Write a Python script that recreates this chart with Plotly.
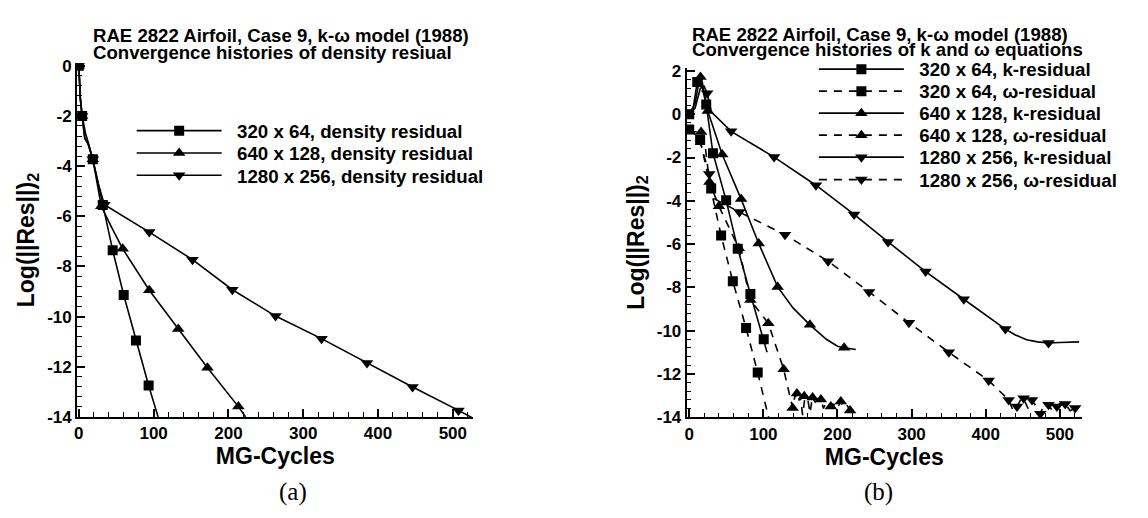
import plotly.graph_objects as go

W, H = 1148, 518

# ---------------- panel (a): density residual ----------------
a_names = ["320 x 64, density residual", "640 x 128, density residual", "1280 x 256, density residual"]

a320_x = [0, 2, 4.4, 9, 13, 18.7, 26, 32, 45.3, 60, 76.4, 93.3, 106]
a320_y = [0, -1.3, -2.0, -2.7, -3.1, -3.73, -4.7, -5.55, -7.36, -9.14, -10.95, -12.75, -14.0]
a320_mx = [0, 4.4, 18.7, 32, 45.3, 60, 76.4, 93.3]
a320_my = [0, -2.0, -3.73, -5.55, -7.36, -9.14, -10.95, -12.75]

a640_x = [0, 2, 4.4, 8, 12, 18.7, 24, 30, 44, 58.7, 94.2, 132.9, 172, 213.3, 223]
a640_y = [0, -1.3, -2.0, -2.9, -3.05, -3.73, -4.6, -5.6, -6.45, -7.3, -8.95, -10.5, -12.04, -13.59, -14.0]
a640_mx = [0, 4.4, 18.7, 30, 58.7, 94.2, 132.9, 172, 213.3]
a640_my = [0, -2.0, -3.73, -5.6, -7.3, -8.95, -10.5, -12.04, -13.59]

a1280_x = [0, 2, 4.4, 8, 12, 18.7, 26, 34.2, 94.2, 152, 205.3, 263, 324.4, 385.3, 446.2, 507.6, 527]
a1280_y = [0, -1.3, -2.0, -2.9, -3.1, -3.73, -4.7, -5.54, -6.63, -7.73, -8.93, -9.98, -10.88, -11.85, -12.81, -13.74, -14.05]
a1280_mx = [0, 4.4, 18.7, 34.2, 94.2, 152, 205.3, 263, 324.4, 385.3, 446.2, 507.6]
a1280_my = [0, -2.0, -3.73, -5.54, -6.63, -7.73, -8.93, -9.98, -10.88, -11.85, -12.81, -13.74]

# ---------------- panel (b): k and omega residuals ----------------
b_names = ["320 x 64, k-residual", "320 x 64, \u03c9-residual",
           "640 x 128, k-residual", "640 x 128, \u03c9-residual",
           "1280 x 256, k-residual", "1280 x 256, \u03c9-residual"]

k320_x = [0, 5, 10.8, 15, 22.9, 32, 49.8, 65.5, 82.5, 100.5, 105]
k320_y = [0, 0.2, 1.49, 1.6, 0.45, -1.8, -3.98, -6.22, -8.31, -10.4, -11.0]
k320_mx = [0, 10.8, 22.9, 32, 49.8, 65.5, 82.5, 100.5]
k320_my = [0, 1.49, 0.45, -1.8, -3.98, -6.22, -8.31, -10.4]

w320_x = [0, 5, 14.7, 20, 29.6, 43, 58.8, 76.7, 92.4, 105, 107]
w320_y = [-0.7, -0.8, -1.19, -2.0, -3.43, -5.6, -7.72, -9.88, -11.94, -13.6, -14.0]
w320_mx = [0, 14.7, 29.6, 43, 58.8, 76.7, 92.4]
w320_my = [-0.7, -1.19, -3.43, -5.6, -7.72, -9.88, -11.94]

k640_x = [0, 8, 15.2, 20, 25, 44.5, 70, 93.7, 119.3, 140, 162.8, 185, 200, 209, 224.7]
k640_y = [0, 0.5, 1.9, 1.0, 0.15, -1.86, -3.92, -5.97, -7.98, -8.95, -9.73, -10.4, -10.72, -10.79, -10.87]
k640_mx = [15.2, 25, 44.5, 70, 93.7, 119.3, 162.8, 209]
k640_my = [1.72, 0.15, -1.86, -3.92, -5.97, -7.98, -9.73, -10.79]

w640_x = [0, 5, 16, 22, 27.3, 40, 66.9, 82.5, 106.7, 127.4, 139.5, 143, 147, 150, 153, 156, 160, 163,
          166, 170, 174, 178, 181, 185, 190, 195, 200, 204, 208, 212, 217, 222, 225]
w640_y = [-0.7, -0.8, -0.82, -1.6, -3.13, -4.25, -6.19, -8.58, -9.66, -11.79, -13.58, -12.95, -13.3, -13.05,
          -13.9, -13.1, -13.2, -13.8, -13.1, -13.3, -13.15, -13.2, -13.6, -13.3, -13.5, -13.4, -13.6, -13.28,
          -13.5, -13.4, -13.69, -13.6, -13.75]
w640_mx = [16, 27.3, 40, 66.9, 82.5, 106.7, 127.4, 139.5, 145.3, 155.2, 166.4, 177.6, 191, 204.5, 217]
w640_my = [-0.82, -3.13, -4.25, -6.19, -8.58, -9.66, -11.79, -13.58, -12.91, -13.03, -13.09, -13.18, -13.51, -13.28, -13.69]

k1280_x = [0, 8, 15, 20, 24.2, 30, 56.5, 114.5, 170.9, 222.4, 268.2, 318.9, 370.4, 426.5, 440, 455, 470,
           484.7, 500, 526]
k1280_y = [0, 0.3, 1.2, 1.3, 0.97, 0.1, -0.79, -1.98, -3.28, -4.63, -5.9, -7.27, -8.55, -9.93, -10.2,
           -10.42, -10.52, -10.57, -10.55, -10.52]
k1280_mx = [24.2, 56.5, 114.5, 170.9, 222.4, 268.2, 318.9, 370.4, 426.5, 484.7]
k1280_my = [0.97, -0.79, -1.98, -3.28, -4.63, -5.9, -7.27, -8.55, -9.93, -10.57]

w1280_x = [0, 5, 15, 27, 34.6, 67.7, 129.2, 187.4, 242.6, 296.4, 350.2, 404, 425, 431, 437, 442.2, 447,
           451.1, 457, 462.4, 468, 473.6, 479, 484.7, 490, 496, 502, 507.2, 514, 520.6, 526]
w1280_y = [-0.7, -0.8, -1.3, -2.76, -3.92, -4.52, -5.57, -6.79, -8.21, -9.63, -11.0, -12.31, -13.0, -13.21,
           -13.7, -13.51, -13.2, -13.13, -13.6, -13.21, -13.5, -13.84, -13.4, -13.43, -13.7, -13.51, -13.3,
           -13.39, -13.7, -13.58, -13.5]
w1280_mx = [27, 67.7, 129.2, 187.4, 242.6, 296.4, 350.2, 404, 431, 442.2, 451.1, 462.4, 473.6, 484.7, 496, 507.2, 520.6]
w1280_my = [-2.76, -4.52, -5.57, -6.79, -8.21, -9.63, -11.0, -12.31, -13.21, -13.51, -13.13, -13.21, -13.84, -13.43, -13.51, -13.39, -13.58]

y_ticks_a = [0, -2, -4, -6, -8, -10, -12, -14]
y_ticks_b = [2, 0, -2, -4, -6, -8, -10, -12, -14]
x_ticks = [0, 100, 200, 300, 400, 500]

# ---------------- figure ----------------
FONT = "Liberation Sans"
BLACK = "black"
LW = 1.6
DASH = "8px,7px"
MSIZE = {"square": 10, "triangle-up": 11, "triangle-down": 11}
GAP = "\u00a0\u00a0"

fig = go.Figure()


def add_series(x, y, mx, my, name, symbol, dash, xa, ya, legend):
    fig.add_trace(go.Scatter(x=x, y=y, mode="lines", line=dict(color=BLACK, width=LW, dash=dash),
                             showlegend=False, xaxis=xa, yaxis=ya, hoverinfo="skip"))
    fig.add_trace(go.Scatter(x=mx, y=my, mode="markers",
                             marker=dict(symbol=symbol, size=MSIZE[symbol], color=BLACK, line=dict(width=0)),
                             showlegend=False, xaxis=xa, yaxis=ya))
    fig.add_trace(go.Scatter(x=[None], y=[None], mode="lines+markers", name=GAP + name,
                             line=dict(color=BLACK, width=LW, dash=dash),
                             marker=dict(symbol=symbol, size=MSIZE[symbol], color=BLACK, line=dict(width=0)),
                             xaxis=xa, yaxis=ya, legend=legend))


add_series(a320_x, a320_y, a320_mx, a320_my, a_names[0], "square", "solid", "x", "y", "legend")
add_series(a640_x, a640_y, a640_mx, a640_my, a_names[1], "triangle-up", "solid", "x", "y", "legend2")
add_series(a1280_x, a1280_y, a1280_mx, a1280_my, a_names[2], "triangle-down", "solid", "x", "y", "legend3")

add_series(k320_x, k320_y, k320_mx, k320_my, b_names[0], "square", "solid", "x2", "y2", "legend4")
add_series(w320_x, w320_y, w320_mx, w320_my, b_names[1], "square", DASH, "x2", "y2", "legend5")
add_series(k640_x, k640_y, k640_mx, k640_my, b_names[2], "triangle-up", "solid", "x2", "y2", "legend6")
add_series(w640_x, w640_y, w640_mx, w640_my, b_names[3], "triangle-up", DASH, "x2", "y2", "legend7")
add_series(k1280_x, k1280_y, k1280_mx, k1280_my, b_names[4], "triangle-down", "solid", "x2", "y2", "legend8")
add_series(w1280_x, w1280_y, w1280_mx, w1280_my, b_names[5], "triangle-down", DASH, "x2", "y2", "legend9")


def fx(p):
    return p / W


def fy(p):
    return 1 - p / H


tickfont = dict(family=FONT, size=17, color=BLACK, weight="bold")
titlefont = dict(family=FONT, size=23, color=BLACK, weight="bold")


def axis_style(rng, dom, tickvals, minor_dtick, anchor, title, standoff):
    return dict(range=rng, domain=dom, anchor=anchor, showline=True, linecolor=BLACK, linewidth=2,
                ticks="inside", ticklen=8, tickwidth=1.5, tickcolor=BLACK, showgrid=False, zeroline=False,
                tickvals=tickvals, ticktext=[str(v) for v in tickvals], tickfont=tickfont,
                minor=dict(ticks="inside", ticklen=4.5, tickwidth=1, tickcolor=BLACK, dtick=minor_dtick,
                           showgrid=False),
                title=dict(text=title, font=titlefont, standoff=standoff), fixedrange=True)


ytitle = "Log(||Res||)<sub>2</sub>"
layout = dict(
    width=W, height=H, margin=dict(l=0, r=0, t=0, b=0), paper_bgcolor="white", plot_bgcolor="white",
    xaxis=axis_style([-2.3, 527.6], [fx(74.3), fx(471.7)], x_ticks, 20, "y", "MG-Cycles", 2),
    yaxis=axis_style([-14, 0.1], [fy(424), fy(59.1)], y_ticks_a, 0.4, "x", ytitle, 6),
    xaxis2=axis_style([-3.4, 529.7], [fx(685.5), fx(1081.7)], x_ticks, 20, "y2", "MG-Cycles", 2),
    yaxis2=axis_style([-14, 2.15], [fy(424.3), fy(63.7)], y_ticks_b, 0.4, "x2", ytitle, 6),
    showlegend=True,
)

leg_font = dict(family=FONT, size=18.7, color=BLACK, weight="bold")
# legend rows: (line start px, row centre px)
leg_rows = [(137, 129), (137, 152), (137, 175),
            (821, 65.5), (821, 88.2), (821, 110.9), (821, 133.6), (821, 156.3), (821, 179.5)]
for i, (lx, ly) in enumerate(leg_rows):
    key = "legend" if i == 0 else "legend%d" % (i + 1)
    layout[key] = dict(x=fx(lx - 8), y=fy(ly), xanchor="left", yanchor="middle", bgcolor="rgba(0,0,0,0)",
                       font=leg_font, itemwidth=85, borderwidth=0, itemclick=False, itemdoubleclick=False)
fig.update_layout(**layout)

ann_font = dict(family=FONT, size=18.6, color=BLACK, weight="bold")
annotations = [
    dict(text="RAE 2822 Airfoil, Case 9, k-\u03c9 model (1988)", x=fx(89), y=fy(30)),
    dict(text="Convergence histories of density resiual", x=fx(89), y=fy(47.7)),
    dict(text="RAE 2822 Airfoil, Case 9, k-\u03c9 model (1988)", x=fx(690), y=fy(29.3)),
    dict(text="Convergence histories of k and \u03c9 equations", x=fx(690), y=fy(44.5)),
]
for a in annotations:
    a.update(xref="paper", yref="paper", xanchor="left", yanchor="middle", showarrow=False, font=ann_font,
             borderpad=0)
cap_font = dict(family="Liberation Serif", size=25, color=BLACK)
annotations += [
    dict(text="(a)", x=fx(291), y=fy(501), xref="paper", yref="paper", xanchor="center", yanchor="middle",
         showarrow=False, font=cap_font),
    dict(text="(b)", x=fx(878), y=fy(501), xref="paper", yref="paper", xanchor="center", yanchor="middle",
         showarrow=False, font=cap_font),
]
fig.update_layout(annotations=annotations)

fig.write_html("out.html")
